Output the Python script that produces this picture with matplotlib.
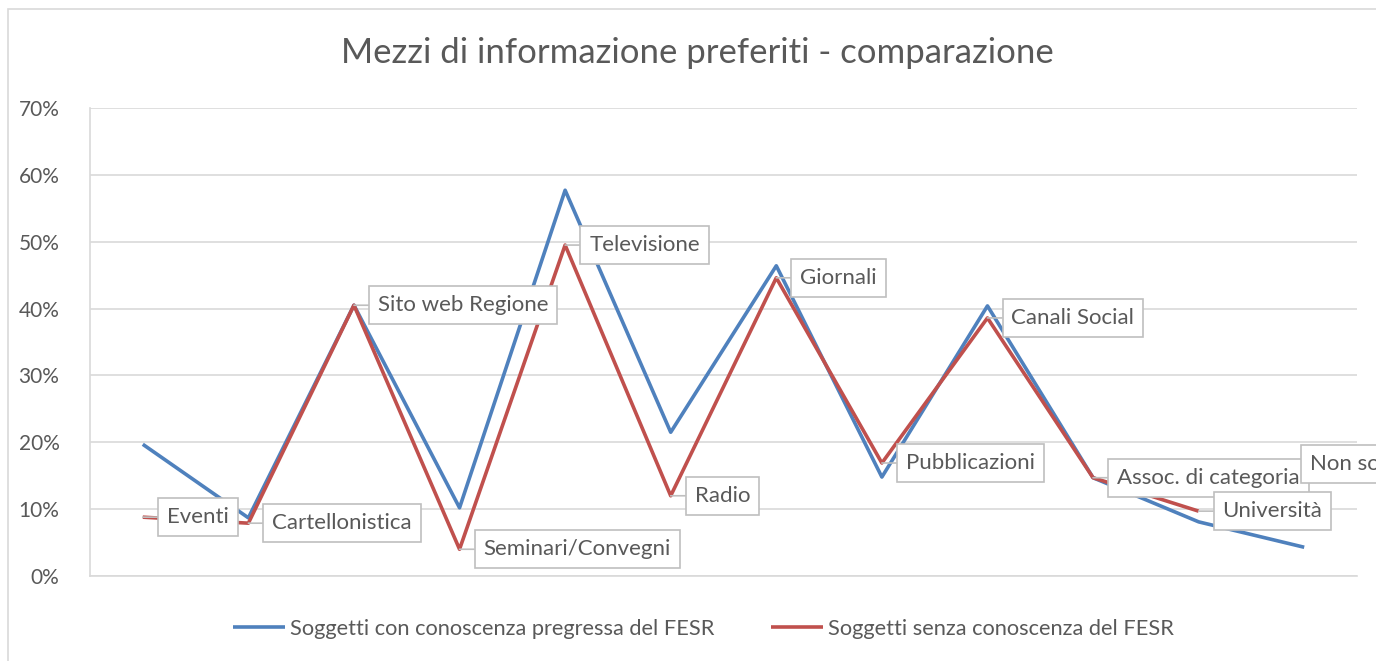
import matplotlib.pyplot as plt
import numpy as np
from matplotlib.patches import Rectangle

plt.rcParams['font.family'] = ['Lato', 'DejaVu Sans']

categorie = ["Eventi", "Cartellonistica", "Sito web Regione", "Seminari/Convegni",
             "Televisione", "Radio", "Giornali", "Pubblicazioni", "Canali Social",
             "Assoc. di categoria", "Università", "Non so"]

# valori in percentuale
con_fesr = [19.7, 8.7, 40.5, 10.2, 57.7, 21.5, 46.4, 14.8, 40.4, 14.7, 8.1, 4.3]
senza_fesr = [8.8, 7.9, 40.5, 4.0, 49.5, 12.0, 44.6, 16.9, 38.6, 14.7, 9.7, np.nan]
label_nonso_y = 16.8

yticks = [0, 10, 20, 30, 40, 50, 60, 70]

grigio = "#595959"
blu = "#4F81BD"
rosso = "#C0504D"

fig = plt.figure(figsize=(13.76, 6.61), dpi=100)
ax = fig.add_axes([90 / 1376, 85 / 661, 1267 / 1376, 468 / 661])

x = np.arange(len(categorie))
ax.plot(x, con_fesr, color=blu, lw=2.6, solid_capstyle='butt',
        label="Soggetti con conoscenza pregressa del FESR", zorder=3)
ax.plot(x, senza_fesr, color=rosso, lw=2.6, solid_capstyle='butt',
        label="Soggetti senza conoscenza del FESR", zorder=4)

ax.set_xlim(-0.5, len(categorie) - 0.5)
ax.set_ylim(0, 70)
ax.set_yticks(yticks)
ax.set_yticklabels([f"{v}%" for v in yticks], fontsize=15, color=grigio)
ax.set_xticks([])
ax.tick_params(axis='y', length=0, pad=22)
ax.grid(axis='y', color="#d9d9d9", lw=1.2)
ax.set_axisbelow(True)
for s in ['top', 'right']:
    ax.spines[s].set_visible(False)
ax.spines['left'].set_color("#d9d9d9")
ax.spines['bottom'].set_color("#d9d9d9")
ax.spines['left'].set_linewidth(1.2)
ax.spines['bottom'].set_linewidth(1.2)

# etichette a fumetto sulla serie rossa
box = dict(boxstyle="square,pad=0.4", fc="white", ec="#bfbfbf", lw=1.2)
for i, nome in enumerate(categorie):
    yv = senza_fesr[i]
    if np.isnan(yv):
        # come nell'originale, "Non so" esce dal bordo destro
        ax.annotate(nome, (i, label_nonso_y), xytext=(6, 0), textcoords='offset pixels',
                    ha='left', va='center', fontsize=16, color=grigio, bbox=box,
                    annotation_clip=False, zorder=5)
        continue
    ax.annotate(nome, (i, yv), xytext=(24, 0), textcoords='offset pixels',
                ha='left', va='center', fontsize=16, color=grigio, bbox=box,
                arrowprops=dict(arrowstyle='-', color="#bfbfbf", lw=1.2,
                                shrinkA=0, shrinkB=0),
                annotation_clip=False, zorder=5)

fig.text(697 / 1376, 1 - 53 / 661, "Mezzi di informazione preferiti - comparazione",
         ha='center', va='center', fontsize=25, color=grigio)

ax.legend(loc='center', bbox_to_anchor=(0.484, -0.113), ncol=2, frameon=False,
          fontsize=15.7, labelcolor=grigio, handlelength=2.4, handletextpad=0.2,
          columnspacing=2.6)

fig.add_artist(Rectangle((8 / 1376, -0.01), 1.1, (661 - 9) / 661 + 0.01,
                         transform=fig.transFigure, fill=False,
                         ec="#d9d9d9", lw=1.2))

fig.savefig("out.png", dpi=100)
